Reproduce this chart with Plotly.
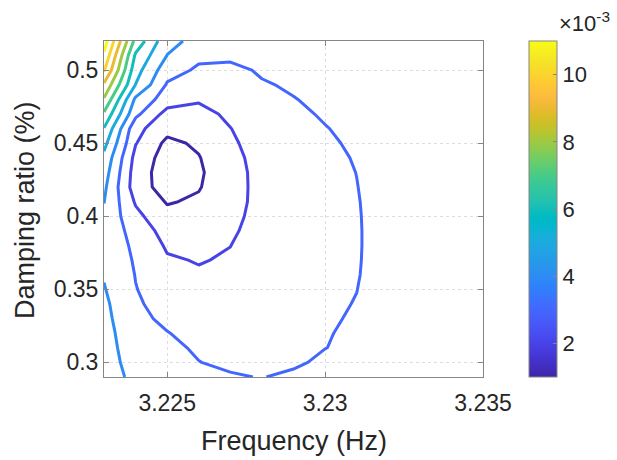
import numpy as np
import plotly.graph_objects as go

# Grid of the search: frequency (Hz) across, damping ratio (%) up
freq_hz = [3.223, 3.224, 3.225, 3.226, 3.227, 3.228, 3.229,
           3.230, 3.231, 3.232, 3.233, 3.234, 3.235]
damping_pct = [0.29, 0.30, 0.31, 0.32, 0.33, 0.34, 0.35, 0.36,
               0.37, 0.38, 0.39, 0.40, 0.41, 0.42, 0.43, 0.44,
               0.45, 0.46, 0.47, 0.48, 0.49, 0.50, 0.51, 0.52]

# Objective value (x 10^-3) at each frequency, listed from damping 0.29 up to 0.52
obj_3223 = [4.95, 4.75, 4.60, 4.45, 4.30, 4.20, 4.06, 3.93, 3.75, 3.70, 3.75, 3.85,
            4.02, 4.20, 4.45, 4.75, 5.30, 5.95, 6.85, 7.90, 8.85, 10.10, 10.80, 11.50]
obj_3224 = [3.50, 3.30, 3.20, 3.18, 3.15, 3.10, 3.03, 2.97, 2.90, 2.80, 2.60, 2.25,
            1.90, 1.50, 1.55, 1.70, 2.05, 2.30, 3.25, 3.81, 4.98, 5.40, 5.85, 6.70]
obj_3225 = [3.30, 3.20, 3.12, 3.02, 2.88, 2.72, 2.55, 2.35, 2.10, 1.88, 1.62, 1.30,
            0.92, 0.55, 0.45, 0.55, 0.77, 1.30, 1.65, 2.50, 2.90, 3.40, 3.98, 4.30]
obj_3226 = [3.15, 3.01, 2.93, 2.82, 2.70, 2.55, 2.35, 2.10, 1.95, 1.82, 1.62, 1.40,
            1.15, 0.93, 0.85, 0.95, 1.15, 1.35, 1.70, 2.10, 2.45, 2.85, 3.20, 3.70]
obj_3227 = [3.05, 2.90, 2.80, 2.70, 2.60, 2.48, 2.35, 2.20, 2.09, 1.99, 1.88, 1.80,
            1.74, 1.72, 1.70, 1.75, 1.85, 1.98, 2.18, 2.38, 2.60, 2.85, 3.12, 3.45]
obj_3228 = [2.98, 2.95, 2.92, 2.87, 2.81, 2.74, 2.66, 2.57, 2.48, 2.40, 2.32, 2.25,
            2.22, 2.22, 2.25, 2.30, 2.40, 2.50, 2.65, 2.80, 2.95, 3.07, 3.22, 3.40]
obj_3229 = [3.12, 2.90, 2.88, 2.86, 2.84, 2.81, 2.78, 2.75, 2.72, 2.70, 2.68, 2.66,
            2.65, 2.66, 2.68, 2.72, 2.77, 2.83, 2.90, 2.98, 3.07, 3.18, 3.30, 3.42]
obj_3230 = [3.25, 3.12, 2.99, 2.97, 2.95, 2.93, 2.91, 2.89, 2.87, 2.85, 2.84, 2.83,
            2.83, 2.84, 2.86, 2.89, 2.93, 2.98, 3.05, 3.12, 3.20, 3.30, 3.40, 3.50]
obj_3231 = [3.30, 3.20, 3.13, 3.08, 3.04, 3.015, 2.995, 2.975, 2.965, 2.96, 2.96, 2.965,
            2.975, 2.99, 3.005, 3.03, 3.07, 3.12, 3.18, 3.25, 3.33, 3.40, 3.48, 3.55]
obj_3232 = [3.42, 3.35, 3.30, 3.26, 3.23, 3.21, 3.20, 3.20, 3.20, 3.20, 3.20, 3.20,
            3.20, 3.20, 3.22, 3.25, 3.28, 3.32, 3.36, 3.40, 3.45, 3.50, 3.55, 3.60]
obj_3233 = [3.50, 3.45, 3.40, 3.37, 3.34, 3.32, 3.31, 3.30, 3.30, 3.30, 3.30, 3.30,
            3.30, 3.31, 3.33, 3.35, 3.38, 3.41, 3.44, 3.48, 3.52, 3.56, 3.60, 3.65]
obj_3234 = [3.56, 3.51, 3.47, 3.44, 3.42, 3.40, 3.39, 3.38, 3.38, 3.38, 3.38, 3.38,
            3.38, 3.39, 3.41, 3.43, 3.45, 3.48, 3.51, 3.55, 3.58, 3.62, 3.66, 3.70]
obj_3235 = [3.62, 3.58, 3.54, 3.51, 3.49, 3.47, 3.46, 3.45, 3.45, 3.45, 3.45, 3.45,
            3.46, 3.48, 3.50, 3.52, 3.55, 3.58, 3.61, 3.64, 3.67, 3.71, 3.75, 3.75]

# Contour levels and colour limits (x 10^-3)
level_start, level_end, level_step = 1, 11, 1
clim = [1, 11]

x_tickvals = [3.225, 3.23, 3.235]
x_ticktext = ["3.225", "3.23", "3.235"]
y_tickvals = [0.3, 0.35, 0.4, 0.45, 0.5]
y_ticktext = ["0.3", "0.35", "0.4", "0.45", "0.5"]
cbar_tickvals = [2, 4, 6, 8, 10]
cbar_ticktext = ["2", "4", "6", "8", "10"]

# parula colormap (64 entries)
parula_rgb = [
    (0.2422, 0.1504, 0.6603), (0.2504, 0.1650, 0.7076), (0.2578, 0.1818, 0.7511), (0.2647, 0.1978, 0.7952),
    (0.2706, 0.2147, 0.8364), (0.2751, 0.2342, 0.8710), (0.2783, 0.2559, 0.8991), (0.2803, 0.2782, 0.9221),
    (0.2813, 0.3006, 0.9414), (0.2810, 0.3228, 0.9579), (0.2795, 0.3447, 0.9717), (0.2760, 0.3667, 0.9829),
    (0.2699, 0.3892, 0.9906), (0.2602, 0.4123, 0.9952), (0.2440, 0.4358, 0.9988), (0.2206, 0.4603, 0.9973),
    (0.1963, 0.4847, 0.9892), (0.1834, 0.5074, 0.9798), (0.1786, 0.5289, 0.9682), (0.1764, 0.5499, 0.9520),
    (0.1687, 0.5703, 0.9359), (0.1540, 0.5902, 0.9218), (0.1460, 0.6091, 0.9079), (0.1380, 0.6276, 0.8973),
    (0.1248, 0.6459, 0.8883), (0.1113, 0.6635, 0.8763), (0.0952, 0.6798, 0.8598), (0.0689, 0.6948, 0.8394),
    (0.0297, 0.7082, 0.8163), (0.0036, 0.7203, 0.7917), (0.0067, 0.7312, 0.7660), (0.0433, 0.7411, 0.7394),
    (0.0964, 0.7500, 0.7120), (0.1408, 0.7584, 0.6842), (0.1717, 0.7670, 0.6554), (0.1938, 0.7758, 0.6251),
    (0.2161, 0.7843, 0.5923), (0.2470, 0.7918, 0.5567), (0.2906, 0.7973, 0.5188), (0.3406, 0.8008, 0.4789),
    (0.3909, 0.8029, 0.4354), (0.4456, 0.8024, 0.3909), (0.5044, 0.7993, 0.3480), (0.5616, 0.7942, 0.3045),
    (0.6174, 0.7876, 0.2612), (0.6720, 0.7793, 0.2227), (0.7242, 0.7698, 0.1910), (0.7738, 0.7598, 0.1646),
    (0.8203, 0.7498, 0.1535), (0.8634, 0.7406, 0.1596), (0.9035, 0.7330, 0.1774), (0.9393, 0.7288, 0.2100),
    (0.9728, 0.7298, 0.2394), (0.9956, 0.7434, 0.2371), (0.9970, 0.7659, 0.2199), (0.9952, 0.7893, 0.2028),
    (0.9892, 0.8136, 0.1885), (0.9786, 0.8386, 0.1766), (0.9676, 0.8639, 0.1643), (0.9610, 0.8890, 0.1537),
    (0.9597, 0.9135, 0.1423), (0.9628, 0.9373, 0.1265), (0.9691, 0.9606, 0.1064), (0.9769, 0.9839, 0.0805),
]
parula = [[i / (len(parula_rgb) - 1),
           "rgb(%d,%d,%d)" % tuple(round(255 * c) for c in rgb)]
          for i, rgb in enumerate(parula_rgb)]

z = np.column_stack([obj_3223, obj_3224, obj_3225, obj_3226, obj_3227, obj_3228, obj_3229,
                     obj_3230, obj_3231, obj_3232, obj_3233, obj_3234, obj_3235])

FONT = "Liberation Sans, Arial, Helvetica, sans-serif"
TEXT = "#262626"
AXIS = "#868686"

# pixel layout of the axes box
W, H = 617, 460
L, R, T, B = 104, 483, 41, 377
pw, ph = R - L, B - T


def px_x(px):
    return (px - L) / pw


def px_y(py):
    return (B - py) / ph


fig = go.Figure()

fig.add_trace(go.Contour(
    x=freq_hz, y=damping_pct, z=z,
    zmin=clim[0], zmax=clim[1], zauto=False,
    autocontour=False,
    contours=dict(start=level_start, end=level_end, size=level_step, coloring="lines"),
    colorscale=parula,
    line=dict(width=3, smoothing=0),
    showscale=False,
    hoverinfo="skip",
))

# continuous colour bar for the contour levels
fig.add_trace(go.Scatter(
    x=[None], y=[None], mode="markers",
    marker=dict(
        color=[clim[0]], cmin=clim[0], cmax=clim[1], colorscale=parula, showscale=True,
        colorbar=dict(
            x=px_x(529), xanchor="left", xpad=0,
            y=0.5, yanchor="middle", ypad=0,
            len=1, lenmode="fraction",
            thickness=28, thicknessmode="pixels",
            outlinecolor=AXIS, outlinewidth=1,
            tickvals=cbar_tickvals, ticktext=cbar_ticktext,
            ticks="inside", ticklen=4, tickcolor=AXIS,
            tickfont=dict(family=FONT, size=22, color=TEXT),
        ),
    ),
    hoverinfo="skip", showlegend=False,
))

axis_common = dict(
    showline=True, linecolor=AXIS, linewidth=1, mirror="ticks",
    ticks="inside", ticklen=5, tickcolor=AXIS,
    showgrid=True, gridcolor="#dedede", griddash="dot", gridwidth=1,
    zeroline=False,
    tickfont=dict(family=FONT, size=23, color=TEXT),
)

fig.update_layout(
    width=W, height=H,
    margin=dict(l=L, r=W - R, t=T, b=H - B, autoexpand=False),
    paper_bgcolor="white", plot_bgcolor="white",
    showlegend=False,
    xaxis=dict(range=[freq_hz[0], freq_hz[-1]], tickvals=x_tickvals, ticktext=x_ticktext,
               ticklabelstandoff=5, **axis_common),
    yaxis=dict(range=[damping_pct[0], damping_pct[-1]], tickvals=y_tickvals, ticktext=y_ticktext,
               **axis_common),
    annotations=[
        dict(text="Frequency (Hz)", x=0.5, y=px_y(441), xref="paper", yref="paper",
             xanchor="center", yanchor="middle", showarrow=False,
             font=dict(family=FONT, size=27, color=TEXT)),
        dict(text="Damping ratio (%)", x=px_x(25), y=px_y(210), xref="paper", yref="paper",
             xanchor="center", yanchor="middle", textangle=-90, showarrow=False,
             font=dict(family=FONT, size=27, color=TEXT)),
        dict(text="×10<sup>-3</sup>", x=px_x(557), y=px_y(22), xref="paper", yref="paper",
             xanchor="left", yanchor="middle", showarrow=False,
             font=dict(family=FONT, size=22, color=TEXT)),
    ],
)

fig.write_html("out.html")
